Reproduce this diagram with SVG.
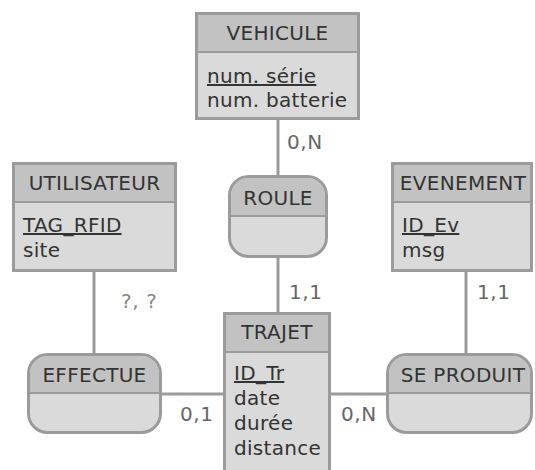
<svg xmlns="http://www.w3.org/2000/svg" width="535" height="470" viewBox="0 0 535 470">
<style>
.box{fill:#dadada;stroke:#9b9b9b;stroke-width:3}
.hdr{fill:#c2c2c2}
.div{stroke:#9b9b9b;stroke-width:2}
.t{font-family:"DejaVu Sans",Verdana,sans-serif;font-size:20px;letter-spacing:0.3px;fill:#333}
.c{text-anchor:middle}
.u{text-decoration:underline}
.lbl{font-family:"DejaVu Sans",Verdana,sans-serif;font-size:20px;letter-spacing:0.6px;fill:#666}
.q{fill:#888}
.ln{stroke:#9b9b9b;stroke-width:3;fill:none}
</style>
<rect width="535" height="470" fill="#fff"/>
<g id="connectors">
<line class="ln" x1="278" y1="120" x2="278" y2="176"/>
<line class="ln" x1="278" y1="258" x2="278" y2="312"/>
<line class="ln" x1="94" y1="272" x2="94" y2="354"/>
<line class="ln" x1="466" y1="272" x2="466" y2="354"/>
<line class="ln" x1="161" y1="394" x2="224" y2="394"/>
<line class="ln" x1="330" y1="394" x2="387" y2="394"/>
<text class="lbl" x="287" y="149">0,N</text>
<text class="lbl" x="289" y="299">1,1</text>
<text class="lbl q" x="121" y="308">?, ?</text>
<text class="lbl" x="477" y="299">1,1</text>
<text class="lbl" x="180" y="421">0,1</text>
<text class="lbl" x="341" y="421">0,N</text>
</g>
<g id="VEHICULE">
<rect class="box" x="196.5" y="13.5" width="162" height="105"/>
<rect class="hdr" x="198" y="15" width="159" height="37"/>
<line class="div" x1="198" y1="52" x2="357" y2="52"/>
<text class="t c" x="277.5" y="40">VEHICULE</text>
<text class="t u" x="207" y="83">num. série</text>
<text class="t" x="207" y="107">num. batterie</text>
</g>
<g id="UTILISATEUR">
<rect class="box" x="13.5" y="163.5" width="162" height="107"/>
<rect class="hdr" x="15" y="165" width="159" height="37"/>
<line class="div" x1="15" y1="202" x2="174" y2="202"/>
<text class="t c" x="94.5" y="190">UTILISATEUR</text>
<text class="t u" x="23" y="232">TAG_RFID</text>
<text class="t" x="23" y="257">site</text>
</g>
<g id="EVENEMENT">
<rect class="box" x="392.5" y="163.5" width="139" height="107"/>
<rect class="hdr" x="394" y="165" width="136" height="37"/>
<line class="div" x1="394" y1="202" x2="530" y2="202"/>
<text class="t c" x="463" y="190">EVENEMENT</text>
<text class="t u" x="402" y="232">ID_Ev</text>
<text class="t" x="402" y="257">msg</text>
</g>
<g id="ROULE">
<rect class="box" x="229.5" y="176.5" width="97" height="80" rx="19"/>
<path class="hdr" d="M231,216 V196 A18,18 0 0 1 249,178 H307 A18,18 0 0 1 325,196 V216 Z"/>
<line class="div" x1="231" y1="216" x2="325" y2="216"/>
<text class="t c" x="278" y="205">ROULE</text>
</g>
<g id="TRAJET">
<rect class="box" x="224.5" y="313.5" width="105" height="170"/>
<rect class="hdr" x="226" y="315" width="102" height="37"/>
<line class="div" x1="226" y1="352" x2="328" y2="352"/>
<text class="t c" x="277" y="339">TRAJET</text>
<text class="t u" x="234" y="380">ID_Tr</text>
<text class="t" x="234" y="405">date</text>
<text class="t" x="234" y="430">durée</text>
<text class="t" x="234" y="455">distance</text>
</g>
<g id="EFFECTUE">
<rect class="box" x="28.5" y="354.5" width="132" height="78" rx="19"/>
<path class="hdr" d="M30,393 V374 A18,18 0 0 1 48,356 H141 A18,18 0 0 1 159,374 V393 Z"/>
<line class="div" x1="30" y1="393" x2="159" y2="393"/>
<text class="t c" x="94.5" y="382">EFFECTUE</text>
</g>
<g id="SE_PRODUIT">
<rect class="box" x="387.5" y="354.5" width="144" height="78" rx="19"/>
<path class="hdr" d="M389,393 V374 A18,18 0 0 1 407,356 H512 A18,18 0 0 1 530,374 V393 Z"/>
<line class="div" x1="389" y1="393" x2="530" y2="393"/>
<text class="t c" x="463" y="382">SE PRODUIT</text>
</g>
</svg>
